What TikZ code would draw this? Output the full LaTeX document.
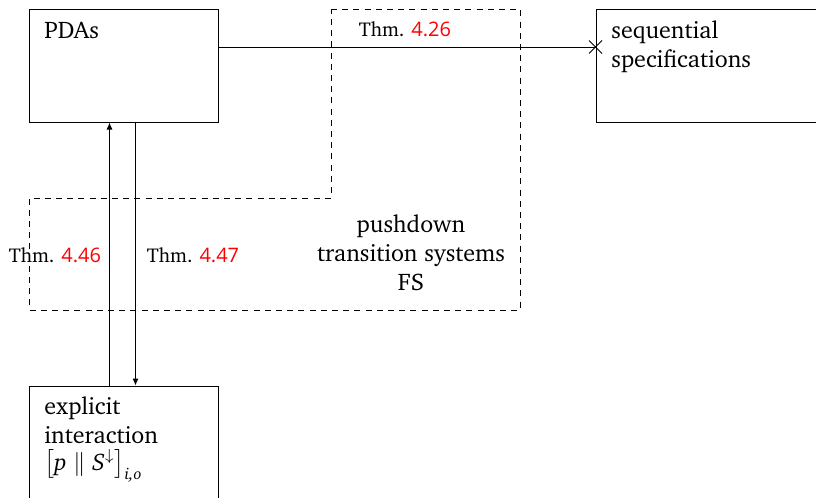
\documentclass[tikz,border=0pt]{standalone}
\usepackage{fontspec}
\newfontfamily\numfont{Open Sans}
\usepackage[T1]{fontenc}
\usepackage{charter}
\usepackage{amsmath}
\usetikzlibrary{arrows.meta,shapes.misc}
\tikzset{
  box/.style={draw, line width=0.5pt, rectangle, inner sep=0pt},
  lbl/.style={inner sep=0pt, font=\fontsize{12}{14.5}\selectfont},
  thm/.style={inner sep=0pt, font=\fontsize{10}{12}\selectfont},
  arr/.style={line width=0.5pt, -{Latex[length=3.5pt,width=3pt]}},
  conn/.style={line width=0.5pt},
  xmark/.style={cross out, draw, line width=0.5pt, minimum size=6pt, inner sep=0pt},
  region/.style={draw, dashed, line width=0.5pt, dash pattern=on 3pt off 2.6pt},
}
\newcommand{\refn}[1]{\textcolor{red}{\numfont #1}}
\newcommand{\ti}[1]{\text{\itshape #1}}
\begin{document}
\begin{tikzpicture}[x=0.5pt,y=-0.5pt]
\useasboundingbox (0,0) rectangle (816,498);
% dashed region
\draw[region] (331,9) -- (520,9) -- (520,310) -- (29,310) -- (29,198) -- (331,198) -- cycle;
% boxes
\node[box, minimum width=94.5pt, minimum height=56.5pt] (pda) at (123.5,65.5) {};
\node[box, minimum width=130pt, minimum height=56.5pt] (seq) at (726,65.5) {};
\node[box, minimum width=94.5pt, minimum height=70pt] (exp) at (123.5,456) {};
% texts
\node[lbl, anchor=base west] (tpda) at (44,39) {PDAs};
\node[lbl, anchor=base west, align=left] (tseq) at (611,68) {sequential\\specifications};
\node[lbl, anchor=base west, align=left] (texp) at (44,470) {explicit\\interaction\\[-1pt]$\smash{\bigl[\ti{p} \parallel \ti{S}^{\downarrow}\bigr]_{\ti{i,o}}}$};
\node[lbl, anchor=base, align=center] (tfs) at (411,290) {pushdown\\transition systems\\FS};
% connectors
\draw[conn] ([yshift=9.25pt]pda.east) -- ([yshift=9.25pt]seq.west) node[xmark] (x) {};
\node[thm, anchor=base] (l26) at (405,37) {Thm. \refn{4.26}};
\draw[arr] ([xshift=40.5pt]exp.north west) -- ([xshift=40.5pt]pda.south west)
  node[thm, midway, anchor=base east, xshift=-4pt, yshift=-4pt] (l46) {Thm. \refn{4.46}};
\draw[arr] ([xshift=53.5pt]pda.south west) -- ([xshift=53.5pt]exp.north west)
  node[thm, midway, anchor=base west, xshift=5.5pt, yshift=-4pt] (l47) {Thm. \refn{4.47}};
\end{tikzpicture}
\end{document}
